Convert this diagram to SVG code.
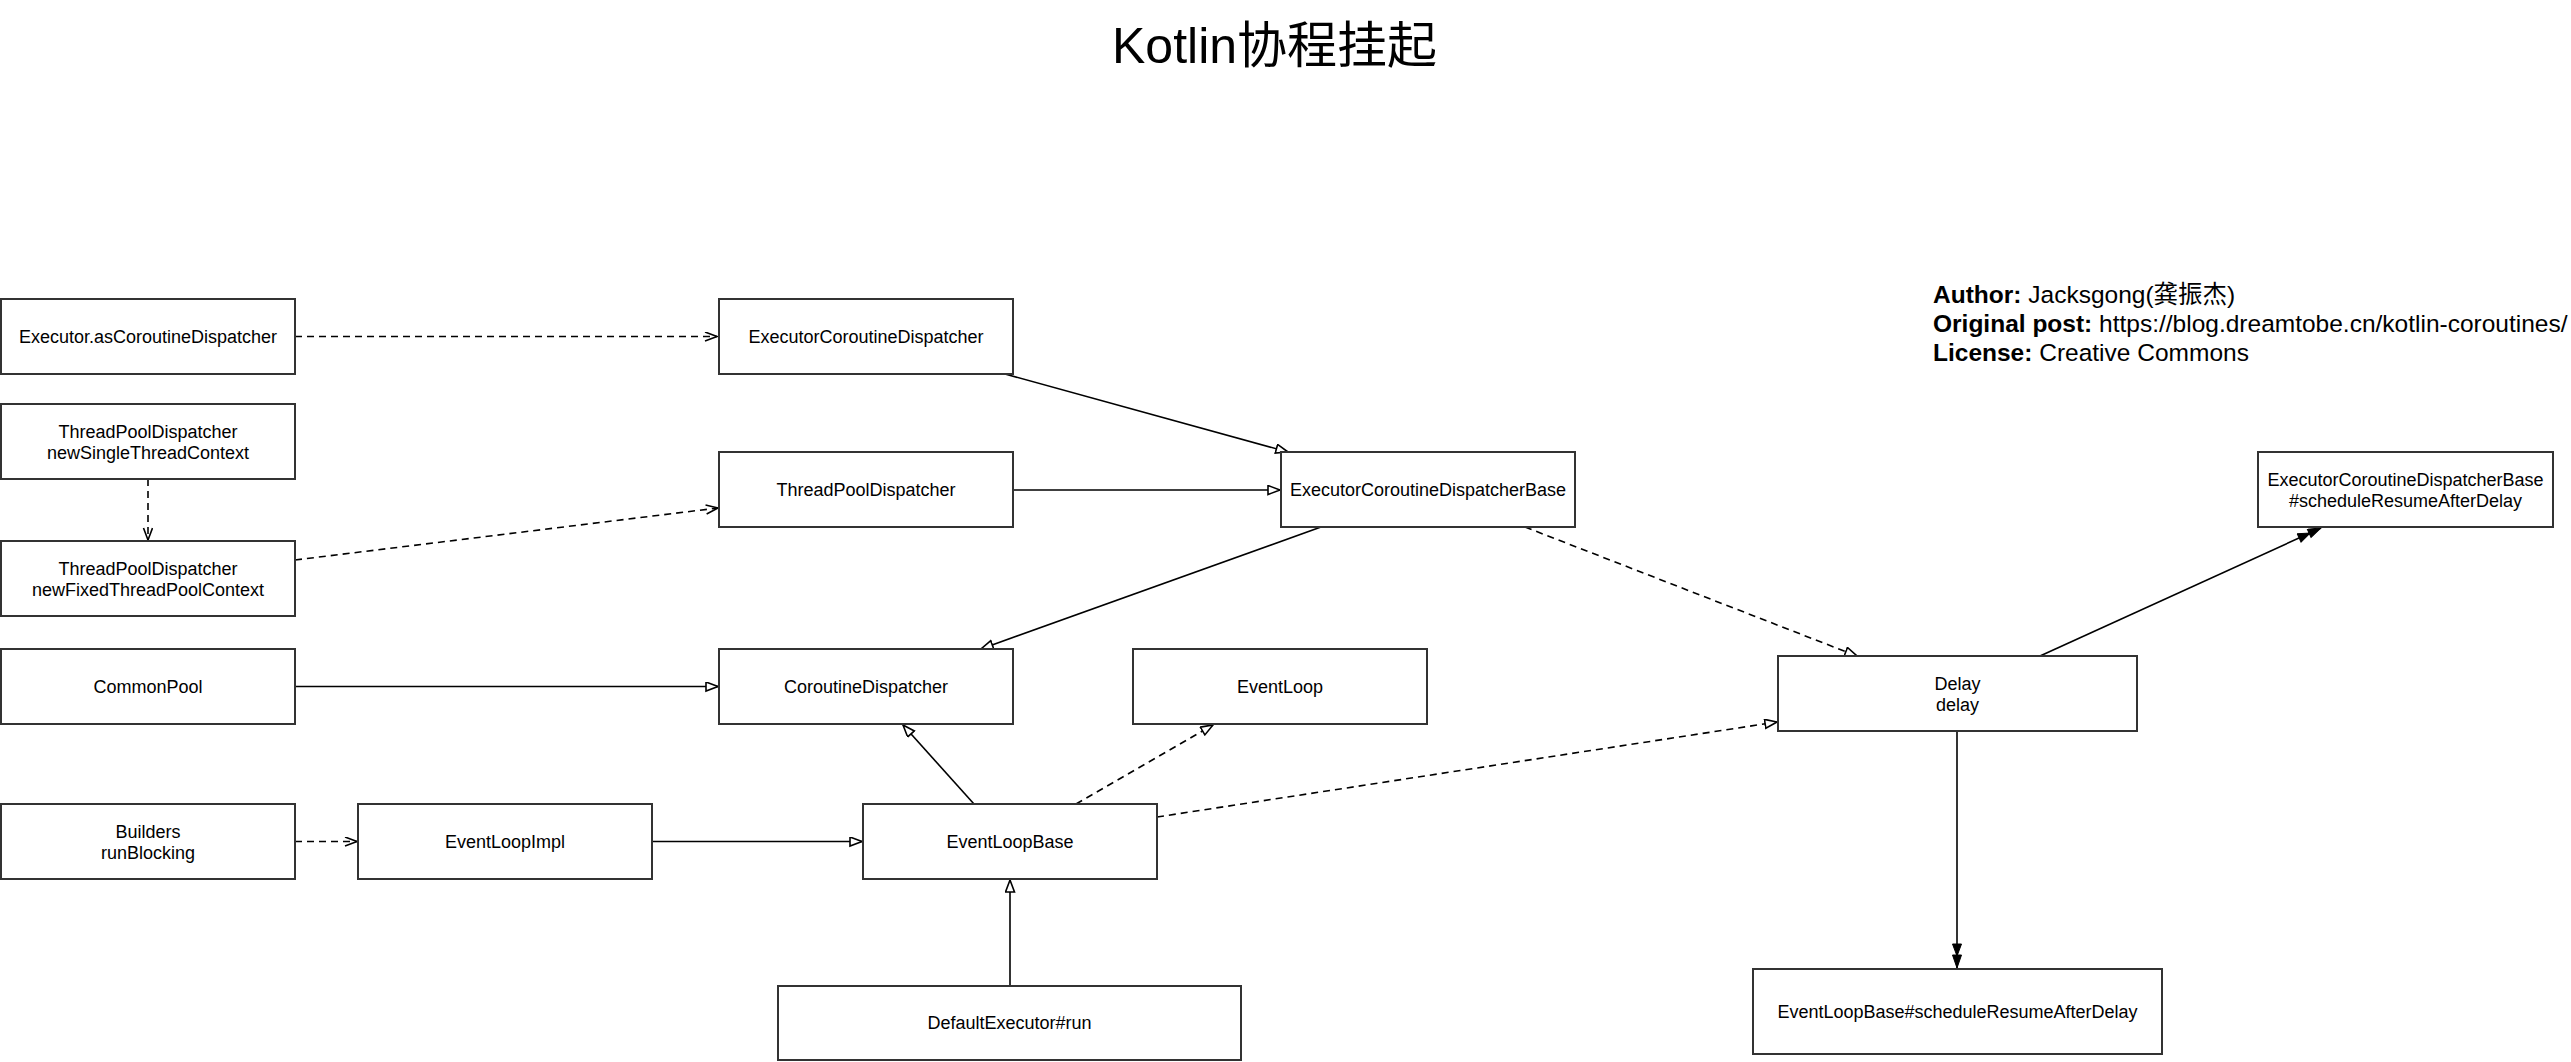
<svg xmlns="http://www.w3.org/2000/svg" width="2571" height="1062" viewBox="0 0 2571 1062">
<style>
.box{fill:#fff;stroke:#333;stroke-width:2}
.t{font-family:"Liberation Sans",Arial,sans-serif;font-size:18px;fill:#000;text-anchor:middle}
.c{fill:none;stroke:#000;stroke-width:1.6}
.d{stroke-dasharray:7 5}
.info{font-family:"Liberation Sans","Noto Sans CJK SC",sans-serif;font-size:24.5px;fill:#000}
</style>
<defs>
<marker id="open" markerUnits="userSpaceOnUse" markerWidth="16" markerHeight="12" refX="13" refY="5" orient="auto" viewBox="0 0 16 12">
<path d="M1,0.5 L13,5 L1,9.5" fill="none" stroke="#000" stroke-width="1.6"/>
</marker>
<marker id="tri" markerUnits="userSpaceOnUse" markerWidth="16" markerHeight="12" refX="13" refY="5" orient="auto" viewBox="0 0 16 12">
<path d="M1,0.5 L13,5 L1,9.5 Z" fill="#fff" stroke="#000" stroke-width="1.6"/>
</marker>
<marker id="dbl" markerUnits="userSpaceOnUse" markerWidth="28" markerHeight="12" refX="25" refY="5" orient="auto" viewBox="0 0 28 12">
<path d="M1,0.5 L13,5 L1,9.5 Z M12,0.5 L25,5 L12,9.5 Z" fill="#000" stroke="#000" stroke-width="1"/>
</marker>
</defs>
<rect width="2571" height="1062" fill="#fff"/>
<text x="1112" y="63" font-family="Liberation Sans,'Noto Sans CJK SC',sans-serif" font-size="50" fill="#000">Kotlin协程挂起</text>
<g id="info" class="info">
<text x="1933" y="303"><tspan font-weight="bold">Author:</tspan> Jacksgong(龚振杰)</text>
<text x="1933" y="332"><tspan font-weight="bold">Original post:</tspan> https://blog.dreamtobe.cn/kotlin-coroutines/</text>
<text x="1933" y="361"><tspan font-weight="bold">License:</tspan> Creative Commons</text>
</g>
<g id="connectors">
<path class="c d" d="M295,336.5 H717" marker-end="url(#open)"/>
<path class="c" d="M1005,374 L1288,452" marker-end="url(#tri)"/>
<path class="c d" d="M148,479 V540" marker-end="url(#open)"/>
<path class="c d" d="M295,560 L718,508" marker-end="url(#open)"/>
<path class="c" d="M1013,490 H1280" marker-end="url(#tri)"/>
<path class="c" d="M1321,527 L981,649" marker-end="url(#tri)"/>
<path class="c d" d="M1525,527 L1857,656" marker-end="url(#tri)"/>
<path class="c" d="M295,686.5 H718" marker-end="url(#tri)"/>
<path class="c" d="M974,804 L903,725" marker-end="url(#tri)"/>
<path class="c d" d="M1076,804 L1213,725" marker-end="url(#tri)"/>
<path class="c d" d="M1157,817 L1777,722" marker-end="url(#tri)"/>
<path class="c d" d="M295,841.5 H357" marker-end="url(#open)"/>
<path class="c" d="M652,841.5 H862" marker-end="url(#tri)"/>
<path class="c" d="M1010,986 V880" marker-end="url(#tri)"/>
<path class="c" d="M1957,731 V968" marker-end="url(#dbl)"/>
<path class="c" d="M2040,656 L2321,528" marker-end="url(#dbl)"/>
</g>
<g id="n1"><rect class="box" x="1" y="299" width="294" height="75"/><text class="t" x="148" y="343">Executor.asCoroutineDispatcher</text></g>
<g id="n2"><rect class="box" x="719" y="299" width="294" height="75"/><text class="t" x="866" y="343">ExecutorCoroutineDispatcher</text></g>
<g id="n3"><rect class="box" x="1" y="404" width="294" height="75"/><text class="t" x="148" y="437.5">ThreadPoolDispatcher</text><text class="t" x="148" y="458.5">newSingleThreadContext</text></g>
<g id="n4"><rect class="box" x="1" y="541" width="294" height="75"/><text class="t" x="148" y="574.5">ThreadPoolDispatcher</text><text class="t" x="148" y="595.5">newFixedThreadPoolContext</text></g>
<g id="n5"><rect class="box" x="719" y="452" width="294" height="75"/><text class="t" x="866" y="496">ThreadPoolDispatcher</text></g>
<g id="n6"><rect class="box" x="1281" y="452" width="294" height="75"/><text class="t" x="1428" y="496">ExecutorCoroutineDispatcherBase</text></g>
<g id="n7"><rect class="box" x="719" y="649" width="294" height="75"/><text class="t" x="866" y="693">CoroutineDispatcher</text></g>
<g id="n8"><rect class="box" x="1133" y="649" width="294" height="75"/><text class="t" x="1280" y="693">EventLoop</text></g>
<g id="n9"><rect class="box" x="1" y="649" width="294" height="75"/><text class="t" x="148" y="693">CommonPool</text></g>
<g id="n10"><rect class="box" x="1" y="804" width="294" height="75"/><text class="t" x="148" y="837.5">Builders</text><text class="t" x="148" y="858.5">runBlocking</text></g>
<g id="n11"><rect class="box" x="358" y="804" width="294" height="75"/><text class="t" x="505" y="848">EventLoopImpl</text></g>
<g id="n12"><rect class="box" x="863" y="804" width="294" height="75"/><text class="t" x="1010" y="848">EventLoopBase</text></g>
<g id="n13"><rect class="box" x="778" y="986" width="463" height="74"/><text class="t" x="1009.5" y="1029">DefaultExecutor#run</text></g>
<g id="n14"><rect class="box" x="1778" y="656" width="359" height="75"/><text class="t" x="1957.5" y="689.5">Delay</text><text class="t" x="1957.5" y="710.5">delay</text></g>
<g id="n15"><rect class="box" x="1753" y="969" width="409" height="85"/><text class="t" x="1957.5" y="1018">EventLoopBase#scheduleResumeAfterDelay</text></g>
<g id="n16"><rect class="box" x="2258" y="452" width="295" height="75"/><text class="t" x="2405.5" y="485.5">ExecutorCoroutineDispatcherBase</text><text class="t" x="2405.5" y="506.5">#scheduleResumeAfterDelay</text></g>
</svg>
